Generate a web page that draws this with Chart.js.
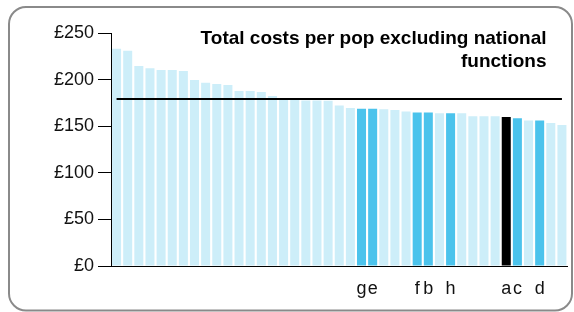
<!DOCTYPE html>
<html>
<head>
<meta charset="utf-8">
<script src="https://cdn.jsdelivr.net/npm/chart.js@4/dist/chart.umd.min.js"></script>
<style>
  html, body { margin: 0; padding: 0; background: #fff; }
  #wrap { width: 574px; height: 312px; }
</style>
</head>
<body>
<div id="wrap"><canvas id="c" width="574" height="312"></canvas></div>
<script>
// ---- Data ----
const categories = ['', '', '', '', '', '', '', '', '', '', '',
  '', '', '', '', '', '', '', '', '', '', '',
  'g', 'e', '', '', '', 'f', 'b', '', 'h', '', '', '', '',
  'a', 'c', '', 'd', '', ''];
const costs = [233, 231, 214.5, 212.3, 210.4, 210.4, 209.3, 199.6, 196.7, 195.3, 194.2,
  187.8, 187.8, 186.8, 182.5, 179.5, 179.5, 177.5, 177.5, 177.2, 172.1, 169.6,
  168.6, 168.6, 168.2, 167.5, 165.7, 164.6, 164.6, 163.9, 164.0, 163.9, 160.7, 160.7, 160.7,
  160.0, 158.5, 156.0, 156.0, 153.5, 151.3];
const benchmark = 179.3;
const yTicks = [0, 50, 100, 150, 200, 250];
const titleLines = ['Total costs per pop excluding national', 'functions'];

// ---- Styling ----
const FONT = '"Liberation Sans", Arial, Helvetica, sans-serif';
const LIGHT = '#cdeef9', DARK = '#4bc3ec', FOCUS = '#000000';
const barColors = categories.map(l => l === 'a' ? FOCUS : (l ? DARK : LIGHT));

const decor = {
  id: 'decor',
  afterDraw(chart) {
    const ctx = chart.ctx;
    ctx.save();
    // title
    ctx.fillStyle = '#000';
    ctx.font = 'bold 19px ' + FONT;
    ctx.textAlign = 'right';
    ctx.textBaseline = 'alphabetic';
    const right = chart.chartArea.right - 21;
    ctx.fillText(titleLines[0], right, 43.5);
    ctx.fillText(titleLines[1], right, 67);
    // rounded frame
    ctx.strokeStyle = '#8a8a8a';
    ctx.lineWidth = 2;
    ctx.beginPath();
    ctx.roundRect(9, 7, 563, 303.5, 17);
    ctx.stroke();
    ctx.restore();
  }
};

new Chart(document.getElementById('c'), {
  data: {
    labels: categories,
    datasets: [
      {
        type: 'line',
        data: categories.map(() => benchmark),
        borderColor: '#000',
        borderWidth: 2,
        pointRadius: 0,
        fill: false,
        order: 0
      },
      {
        type: 'bar',
        data: costs,
        backgroundColor: barColors,
        borderWidth: 0,
        barPercentage: 0.81,
        categoryPercentage: 1,
        order: 1
      }
    ]
  },
  options: {
    responsive: false,
    animation: false,
    layout: { padding: { left: 0, right: 6, top: 33, bottom: 0 } },
    plugins: { legend: { display: false }, tooltip: { enabled: false }, title: { display: false } },
    scales: {
      x: {
        afterFit(s) { s.height = 46; },
        grid: { display: true, drawOnChartArea: false, drawTicks: false },
        border: { display: true, color: '#000', width: 1 },
        ticks: { autoSkip: false, maxRotation: 0, minRotation: 0, padding: 12,
                 color: '#111', font: { family: FONT, size: 18 } }
      },
      y: {
        min: 0, max: 250,
        afterFit(s) { s.width = 111; },
        afterBuildTicks(s) { s.ticks = yTicks.map(v => ({ value: v })); },
        grid: { display: true, drawOnChartArea: false, drawTicks: true, tickLength: 13, color: '#000' },
        border: { display: true, color: '#000', width: 1 },
        ticks: { padding: 4, color: '#111', font: { family: FONT, size: 18 },
                 callback: v => '£' + v }
      }
    }
  },
  plugins: [decor]
});
</script>
</body>
</html>
